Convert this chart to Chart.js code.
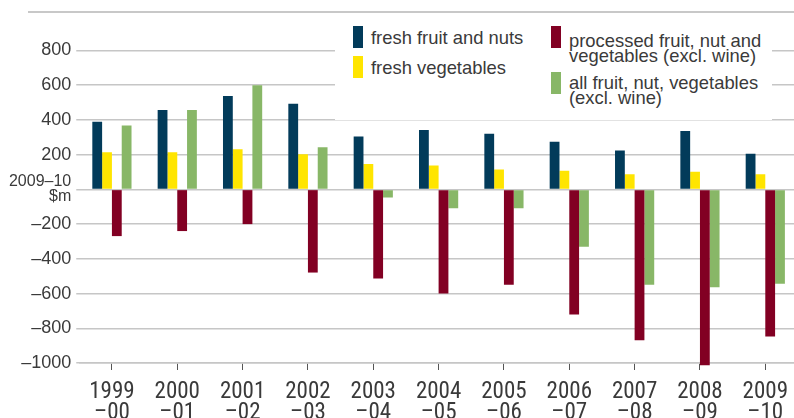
<!DOCTYPE html>
<html lang="en">
<head>
    <meta charset="UTF-8">
    <title>Horticulture trade balance</title>
    <style>
        body {
            margin: 0;
            padding: 0;
            background: #ffffff;
            overflow: hidden;
        }

        #wrap {
            position: relative;
            width: 800px;
            height: 418px;
            overflow: hidden;
        }

        /* thin rule across the top */
        #topRule {
            position: absolute;
            left: 28px;
            top: 11px;
            width: 780px;
            height: 2px;
            background: #c8c8c8;
        }

        /* legend sits on a white box over the grid lines */
        #legend {
            position: absolute;
            left: 335px;
            top: 14px;
            width: 437px;
            height: 106px;
            background: #ffffff;
            font-family: "Liberation Sans", Arial, sans-serif;
            font-size: 18.4px;
            line-height: 15px;
            color: #3a3a3a;
        }

        .key {
            position: absolute;
            width: 10px;
            height: 22px;
        }

        .txt {
            position: absolute;
            white-space: nowrap;
        }
    </style>
</head>
<body>
    <div id="wrap">
        <canvas id="myChart"></canvas>
        <div id="topRule"></div>
        <div id="legend"></div>
    </div>

    <script src="https://cdn.jsdelivr.net/npm/chart.js"></script>
    <script>
        // categories (financial years)
        const years = [
            ['1999', '–00'], ['2000', '–01'], ['2001', '–02'], ['2002', '–03'],
            ['2003', '–04'], ['2004', '–05'], ['2005', '–06'], ['2006', '–07'],
            ['2007', '–08'], ['2008', '–09'], ['2009', '–10']
        ];

        // values, 2009-10 $m
        const freshFruitNuts = [390, 458, 538, 493, 305, 342, 320, 275, 224, 337, 206];
        const freshVegetables = [214, 214, 231, 203, 146, 138, 115, 108, 87, 102, 87];
        const processed = [-269, -240, -200, -479, -513, -600, -549, -720, -869, -1013, -847];
        const allFruitNutVeg = [368, 458, 600, 243, -47, -108, -108, -331, -549, -563, -543];

        // y axis
        const yMin = -1000;
        const yMax = 1000;
        const yStep = 200;
        const zeroLabel = ['2009–10', '$m'];

        const navy = '#023b5a';
        const yellow = '#ffe500';
        const maroon = '#820023';
        const green = '#88b767';
        const textColor = '#3a3a3a';
        const gridColor = '#c6c6c6';

        // legend (drawn as html so it can sit in two columns)
        const legendItems = [
            { color: navy, text: 'fresh fruit and nuts', kx: 18, ky: 12, tx: 36, ty: 16 },
            { color: yellow, text: 'fresh vegetables', kx: 18, ky: 42, tx: 36, ty: 46 },
            { color: maroon, text: 'processed fruit, nut and<br>vegetables (excl. wine)', kx: 216, ky: 12, tx: 234, ty: 19 },
            { color: green, text: 'all fruit, nut, vegetables<br>(excl. wine)', kx: 216, ky: 58, tx: 234, ty: 61 }
        ];

        const legend = document.getElementById('legend');
        legendItems.forEach(function(item) {
            let k = document.createElement('div');
            k.className = 'key';
            k.style.left = item.kx + 'px';
            k.style.top = item.ky + 'px';
            k.style.background = item.color;
            legend.appendChild(k);

            let t = document.createElement('div');
            t.className = 'txt';
            t.style.left = item.tx + 'px';
            t.style.top = item.ty + 'px';
            t.innerHTML = item.text;
            legend.appendChild(t);
        });

        function fmt(v) {
            if (v === 0) return zeroLabel;
            if (v >= yMax) return '';
            return v < 0 ? '–' + Math.abs(v) : String(v);
        }

        const ctx = document.getElementById('myChart').getContext('2d');
        const chart = new Chart(ctx, {
            type: 'bar',
            data: {
                labels: years,
                datasets: [{
                    label: 'fresh fruit and nuts',
                    data: freshFruitNuts,
                    backgroundColor: navy
                }, {
                    label: 'fresh vegetables',
                    data: freshVegetables,
                    backgroundColor: yellow
                }, {
                    label: 'processed fruit, nut and vegetables (excl. wine)',
                    data: processed,
                    backgroundColor: maroon,
                    clip: false
                }, {
                    label: 'all fruit, nut, vegetables (excl. wine)',
                    data: allFruitNutVeg,
                    backgroundColor: green
                }]
            },
            options: {
                responsive: true,
                maintainAspectRatio: false,
                animation: false,
                barPercentage: 1,
                categoryPercentage: 0.6,
                layout: {
                    padding: { top: 10.7, left: 0, right: 0, bottom: 0 }
                },
                plugins: {
                    legend: { display: false },
                    tooltip: { enabled: false }
                },
                scales: {
                    x: {
                        afterFit: function(scale) { scale.height = 55; },
                        grid: {
                            offset: false,
                            drawOnChartArea: false,
                            drawTicks: true,
                            tickLength: 7,
                            color: '#555555'
                        },
                        border: { display: true, color: gridColor, width: 1.5 },
                        ticks: {
                            maxRotation: 0,
                            autoSkip: false,
                            padding: 12,
                            color: textColor,
                            font: {
                                family: "'Liberation Sans Narrow', 'Roboto Condensed', 'DejaVu Sans Condensed', 'Liberation Sans', sans-serif",
                                size: 23,
                                lineHeight: '20.5px'
                            }
                        }
                    },
                    y: {
                        min: yMin,
                        max: yMax,
                        afterFit: function(scale) { scale.width = 79.25; },
                        border: { display: false },
                        grid: {
                            lineWidth: 1.5,
                            tickLength: 3,
                            color: function(c) {
                                return c.tick && c.tick.value >= yMax ? 'rgba(0,0,0,0)' : gridColor;
                            }
                        },
                        ticks: {
                            stepSize: yStep,
                            padding: 5,
                            color: textColor,
                            callback: fmt,
                            font: function(c) {
                                if (c.tick && c.tick.value === 0) {
                                    return { family: "'Liberation Sans', Arial, sans-serif", size: 16, lineHeight: '15px' };
                                }
                                return { family: "'Liberation Sans', Arial, sans-serif", size: 18 };
                            }
                        }
                    }
                }
            }
        });
    </script>
</body>
</html>
